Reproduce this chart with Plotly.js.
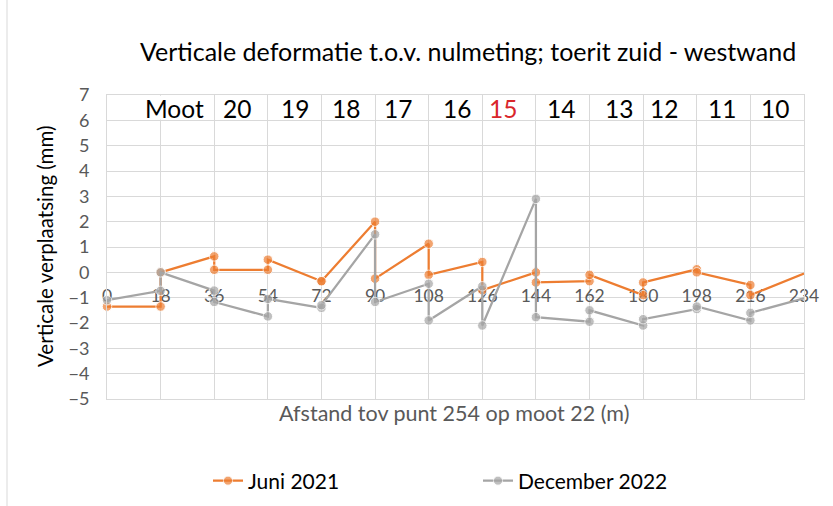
<!DOCTYPE html>
<html>
<head>
<meta charset="utf-8">
<script src="https://cdn.plot.ly/plotly-3.0.1.min.js"></script>
<style>html,body{margin:0;padding:0;background:#fff;}#chart{width:833px;height:506px;}</style>
</head>
<body>
<div id="chart"></div>
<script>
// ---- data ----
const xTicks = [0, 18, 36, 54, 72, 90, 108, 126, 144, 162, 180, 198, 216, 234];
const juniX = [0, 18, 18, 36, 36, 54, 54, 72, 72, 90, 90, 108, 108, 126, 126, 144, 144, 162, 162, 180, 180, 198, 198, 216, 216, 234];
const juniY = [-1.35, -1.35, 0.0, 0.63, 0.1, 0.1, 0.5, -0.35, -0.35, 2.0, -0.25, 1.13, -0.1, 0.41, -0.7, 0.0, -0.4, -0.35, -0.1, -0.9, -0.4, 0.12, 0.0, -0.5, -0.9, -0.05];
const decX = [0, 18, 18, 36, 36, 54, 54, 72, 72, 90, 90, 108, 108, 126, 126, 144, 144, 162, 162, 180, 180, 198, 198, 216, 216, 234];
const decY = [-1.1, -0.73, 0.0, -0.72, -1.17, -1.74, -1.05, -1.4, -1.3, 1.5, -1.17, -0.45, -1.9, -0.55, -2.1, 2.9, -1.77, -1.95, -1.5, -2.1, -1.85, -1.45, -1.35, -1.9, -1.6, -1.03];
const mootLabels = ['Moot', '20', '19', '18', '17', '16', '15', '14', '13', '12', '11', '10'];
const mootX = [22.5, 43.5, 63.1, 80.1, 97.8, 117.4, 132.8, 152.4, 171.9, 187.1, 206.6, 224.2];
const seriesNames = ['Juni 2021', 'December 2022'];
const xTitle = 'Afstand tov punt 254 op moot 22 (m)';
const yTitle = 'Verticale verplaatsing (mm)';
const chartTitle = 'Verticale deformatie t.o.v. nulmeting; toerit zuid - westwand';

// ---- styles ----
const FONT = 'Lato, "Noto Sans", sans-serif';
const ORANGE = '#ED7D31';
const GRAY = '#A5A5A5';
const GRID = '#D9D9D9';
const TICKCOL = '#595959';
const TICK_LABEL_Y = -1;
const MOOT_Y = 6.45;

function markerSizes(n) { const s = []; for (let i = 0; i < n; i++) s.push(i === n - 1 ? 0 : 9.5); return s; }

const traces = [
  {
    x: xTicks, y: xTicks.map(() => TICK_LABEL_Y), text: xTicks.map(String),
    mode: 'text', textposition: 'middle center', showlegend: false, hoverinfo: 'skip',
    textfont: {family: FONT, size: 17.5, color: TICKCOL}, cliponaxis: false
  },
  {
    x: juniX, y: juniY, name: seriesNames[0], mode: 'lines+markers',
    line: {color: ORANGE, width: 2.25}, marker: {color: ORANGE, size: markerSizes(juniX.length)},
    cliponaxis: false
  },
  {
    x: decX, y: decY, name: seriesNames[1], mode: 'lines+markers',
    line: {color: GRAY, width: 2.25}, marker: {color: GRAY, size: markerSizes(decX.length)},
    cliponaxis: false
  }
];

const annotations = mootLabels.map((t, i) => ({
  x: mootX[i], y: MOOT_Y, xref: 'x', yref: 'y', text: t, showarrow: false,
  xanchor: 'center', yanchor: 'middle',
  font: {family: FONT, size: 24.5, color: t === '15' ? '#D9262B' : '#000000'}
}));
annotations.push({
  text: yTitle, textangle: -90, showarrow: false,
  xref: 'paper', x: (45 - 107) / 697, xanchor: 'center',
  yref: 'paper', y: (399 - 247) / 304, yanchor: 'middle',
  font: {family: FONT, size: 20.5, color: '#000000'}
});
annotations.push({
  text: xTitle, showarrow: false,
  xref: 'paper', x: (454 - 107) / 697, xanchor: 'center',
  yref: 'paper', y: -(413 - 399) / 304, yanchor: 'middle',
  font: {family: FONT, size: 21.5, color: TICKCOL}
});

const layout = {
  width: 833, height: 506,
  margin: {l: 107, r: 29, t: 95, b: 107},
  paper_bgcolor: '#ffffff', plot_bgcolor: '#ffffff',
  font: {family: FONT},
  title: {
    text: chartTitle,
    font: {family: FONT, size: 25, color: '#000000'},
    xref: 'paper', x: 0.518, xanchor: 'center',
    yref: 'container', y: 1 - 52 / 506, yanchor: 'middle'
  },
  xaxis: {
    range: [0, 234], tickvals: xTicks, showticklabels: false, ticks: '', automargin: false,
    showgrid: true, gridcolor: GRID, gridwidth: 1, zeroline: false,
    showline: true, linecolor: GRID, linewidth: 1, mirror: true,
    fixedrange: true
  },
  yaxis: {
    range: [-5, 7], dtick: 1, tick0: 0, ticks: '', ticklabelstandoff: 13, automargin: false,
    tickfont: {family: FONT, size: 18, color: TICKCOL},
    showgrid: true, gridcolor: GRID, gridwidth: 1, zeroline: true, zerolinecolor: GRID, zerolinewidth: 1,
    showline: true, linecolor: GRID, linewidth: 1, mirror: true,
    fixedrange: true
  },
  shapes: [
    {type: 'rect', xref: 'x', yref: 'y', x0: 16.5, x1: 19.5, y0: 6.03, y1: 6.97, fillcolor: '#ffffff', line: {width: 0}, layer: 'between'},
    {type: 'line', xref: 'paper', yref: 'paper', x0: (7 - 107) / 697, x1: (7 - 107) / 697, y0: -(506 - 399) / 304, y1: 399 / 304, line: {color: GRID, width: 1}}
  ],
  annotations: annotations,
  legend: {
    orientation: 'h', xref: 'paper', x: (208 - 107) / 697, xanchor: 'left',
    yref: 'container', y: 1 - 481 / 506, yanchor: 'middle',
    font: {family: FONT, size: 21, color: '#000000'}, entrywidth: 225, bgcolor: 'rgba(0,0,0,0)'
  },
  showlegend: true
};

Plotly.newPlot('chart', traces, layout, {displayModeBar: false, staticPlot: true});
</script>
</body>
</html>
